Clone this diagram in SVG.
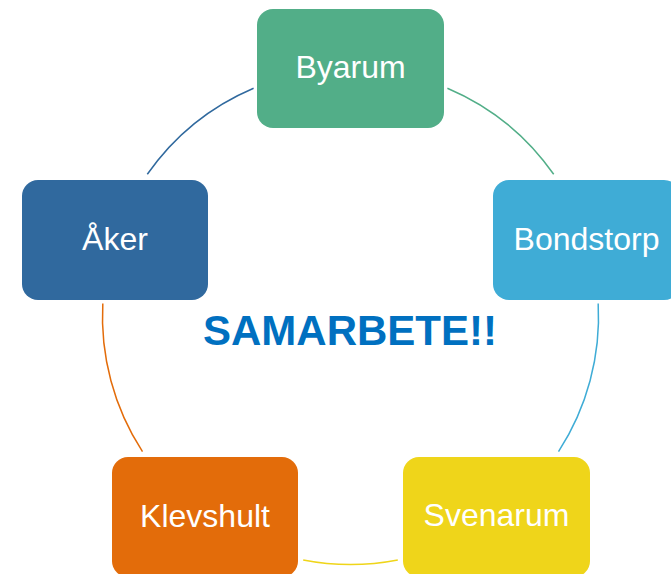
<svg xmlns="http://www.w3.org/2000/svg" width="671" height="574" viewBox="0 0 671 574">
<style>
.box{stroke:none}
.lbl{font-family:"Liberation Sans",Arial,sans-serif;font-size:32px;fill:#ffffff;text-anchor:middle}
.arc{fill:none;stroke-width:1.5}
.title{font-family:"Liberation Sans",Arial,sans-serif;font-size:42px;font-weight:bold;fill:#0070C0;text-anchor:middle}
</style>
<rect width="671" height="574" fill="#ffffff"/>
<g id="connectors">
<path class="arc" stroke="#52AE88" d="M447.4,88.2 A248,248 0 0 1 553.7,174.3"/>
<path class="arc" stroke="#3FACD6" d="M598.2,303.5 A248,248 0 0 1 558.5,451.6"/>
<path class="arc" stroke="#EFD51A" d="M397.8,559.9 A248,248 0 0 1 303.2,559.9"/>
<path class="arc" stroke="#E36C0A" d="M142.5,451.6 A248,248 0 0 1 102.8,303.5"/>
<path class="arc" stroke="#30699E" d="M147.3,174.3 A248,248 0 0 1 253.6,88.2"/>
</g>
<g id="byarum">
<rect class="box" x="257" y="9" width="187" height="119" rx="16" fill="#52AE88"/>
<text class="lbl" x="350.5" y="78">Byarum</text>
</g>
<g id="bondstorp">
<rect class="box" x="493" y="180" width="187" height="120" rx="16" fill="#3FACD6"/>
<text class="lbl" x="586.5" y="250">Bondstorp</text>
</g>
<g id="svenarum">
<rect class="box" x="403" y="457" width="187" height="120" rx="16" fill="#EFD51A"/>
<text class="lbl" x="496.5" y="526">Svenarum</text>
</g>
<g id="klevshult">
<rect class="box" x="112" y="457" width="186" height="120" rx="16" fill="#E36C0A"/>
<text class="lbl" x="205" y="527">Klevshult</text>
</g>
<g id="aker">
<rect class="box" x="22" y="180" width="186" height="120" rx="16" fill="#30699E"/>
<text class="lbl" x="115" y="250">Åker</text>
</g>
<g id="title">
<text class="title" x="350" y="345">SAMARBETE!!</text>
</g>
</svg>
